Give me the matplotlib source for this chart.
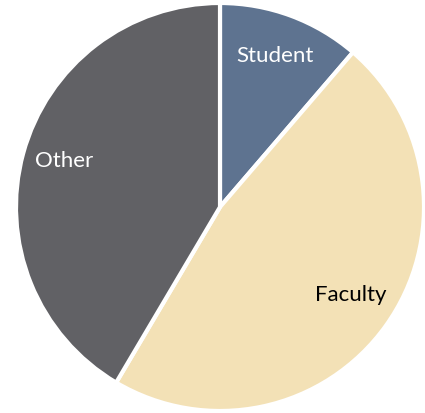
import matplotlib.pyplot as plt

labels = ['Student', 'Faculty', 'Other']
shares = [11.3, 47.2, 41.5]
colors = ['#5E7390', '#F3E1B6', '#616165']
text_colors = ['white', 'black', 'white']
# where each label sits, in pie units (radius = 1)
label_pos = [(0.27, 0.74), (0.64, -0.43), (-0.765, 0.225)]

fig = plt.figure(figsize=(4.25, 4.13), dpi=100)
ax = fig.add_axes([16 / 425, 2 / 413, 408 / 425, 408 / 413])

wedges, _ = ax.pie(shares, colors=colors, startangle=90, counterclock=False,
                   radius=1.0, wedgeprops=dict(edgecolor='white', linewidth=3))

for name, (x, y), c in zip(labels, label_pos, text_colors):
    ax.text(x, y, name, ha='center', va='center', color=c, fontsize=16,
            family=['Lato', 'DejaVu Sans'])

ax.set_xlim(-1.0, 1.0)
ax.set_ylim(-1.0, 1.0)
ax.axis('off')

fig.savefig('out.png', dpi=100)
